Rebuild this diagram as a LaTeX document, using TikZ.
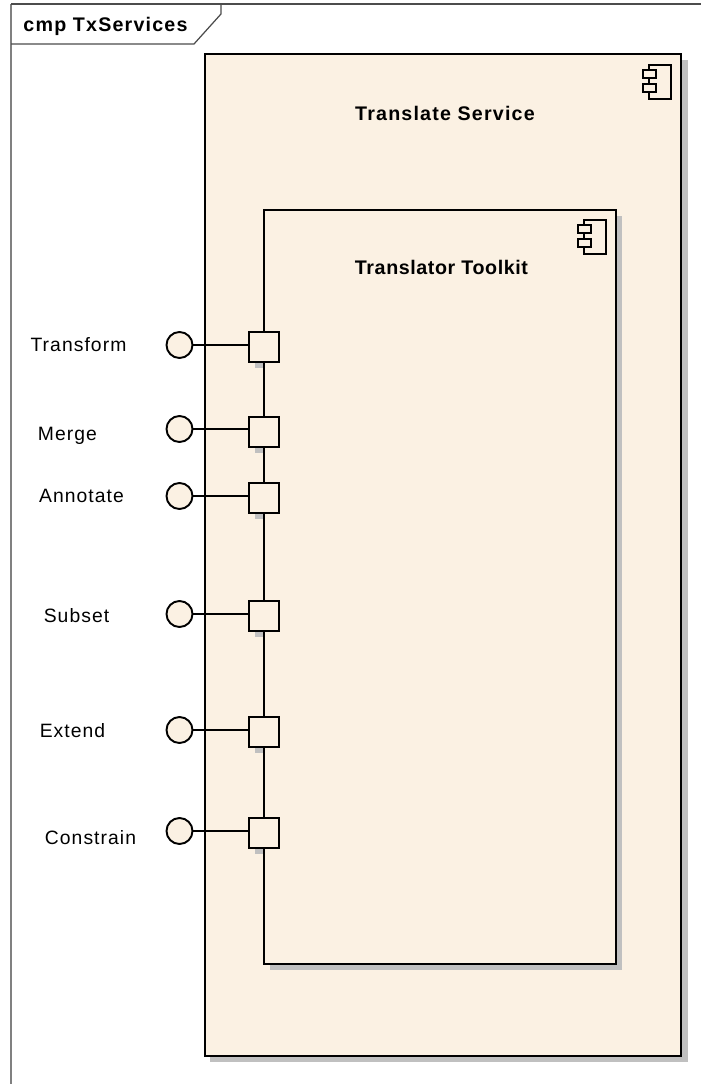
\documentclass[tikz,border=0pt]{standalone}
\usepackage{fontspec}
\setmainfont{Liberation Sans}
\definecolor{compfill}{HTML}{FBF1E3}
\definecolor{compshadow}{HTML}{C0C0C0}
\definecolor{framegray}{HTML}{808080}
\begin{document}
\begin{tikzpicture}[x=0.02cm, y=-0.02cm, line width=1.1pt,
  comp/.style={draw, fill=compfill, inner sep=0pt, outer sep=0pt},
  port/.style={comp, minimum size=0.6cm},
  iface/.style={comp, circle, minimum size=0.52cm},
  part/.style={comp, minimum width=0.26cm, minimum height=0.16cm},
  title/.style={font=\fontsize{11.2pt}{13pt}\selectfont\bfseries\addfontfeatures{LetterSpace=6}, inner sep=0pt},
  label/.style={font=\fontsize{11pt}{13pt}\selectfont\addfontfeatures{LetterSpace=5.5}, inner sep=0pt},
  compicon/.pic={
    \draw (6,0) rectangle (28,34);
    \node[part] at (6.5,9) (-a) {};
    \node[part] at (6.5,23) (-b) {};
  }]

\useasboundingbox (0,0) rectangle (701,1084);

\draw[framegray] (11,1084) -- (11,4);
\draw[line width=0.7pt, black!70] (11,4) -- (701,4);
\draw[line width=0.7pt, black!70] (11,44) -- (194,44) -- (221,14) -- (221,4);
\node[title] at (105.5,26) (frame) {cmp TxServices};

\fill[compshadow] (210,60) rectangle (688,1062);
\node[comp, minimum width=9.54cm, minimum height=20.04cm] at (443,555) (service) {};
\node[title] at (445,113) (servicename) {Translate Service};
\pic at (643,65) (serviceicon) {compicon};

\fill[compshadow] (270,216) rectangle (622,970);
\node[comp, minimum width=7.04cm, minimum height=15.08cm] at (440,587) (toolkit) {};
\node[title] at (441.5,267) (toolkitname) {\addfontfeatures{LetterSpace=3}Translator Toolkit};
\pic at (578,220) (toolkiticon) {compicon};

\fill[compshadow] (255,362) rectangle (263,368);
\fill[compshadow] (255,447) rectangle (263,453);
\fill[compshadow] (255,513) rectangle (263,519);
\fill[compshadow] (255,631) rectangle (263,637);
\fill[compshadow] (255,747) rectangle (263,753);
\fill[compshadow] (255,848) rectangle (263,854);

\node[port] at (264,347) (p0) {};
\node[port] at (264,432) (p1) {};
\node[port] at (264,498) (p2) {};
\node[port] at (264,616) (p3) {};
\node[port] at (264,732) (p4) {};
\node[port] at (264,833) (p5) {};

\node[iface] at (179.5,345) (i0) {};
\node[iface] at (179.5,429) (i1) {};
\node[iface] at (179.5,496) (i2) {};
\node[iface] at (179.5,614) (i3) {};
\node[iface] at (179.5,730) (i4) {};
\node[iface] at (179.5,831) (i5) {};

\draw (i0.east) -- (i0.east -| p0.west);
\draw (i1.east) -- (i1.east -| p1.west);
\draw (i2.east) -- (i2.east -| p2.west);
\draw (i3.east) -- (i3.east -| p3.west);
\draw (i4.east) -- (i4.east -| p4.west);
\draw (i5.east) -- (i5.east -| p5.west);

\node[label] at (78.5,345) (l0) {Transform};
\node[label] at (67.5,436) (l1) {Merge};
\node[label] at (81.5,496) (l2) {Annotate};
\node[label] at (76.5,616) (l3) {Subset};
\node[label] at (72.5,731) (l4) {Extend};
\node[label] at (90.5,838) (l5) {Constrain};

\end{tikzpicture}
\end{document}
